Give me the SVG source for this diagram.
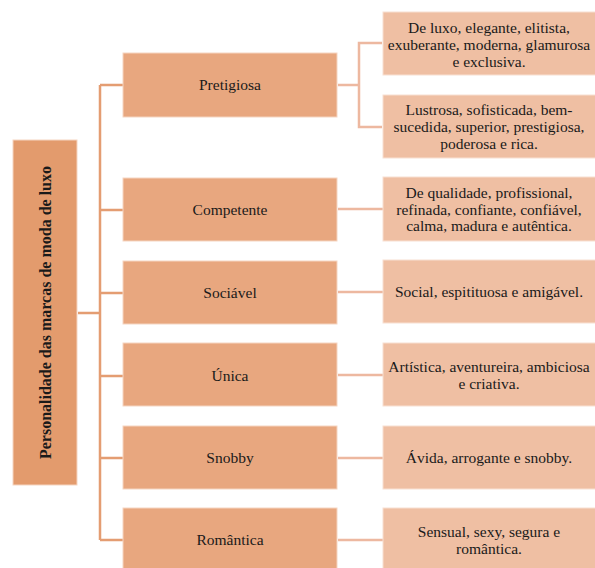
<svg xmlns="http://www.w3.org/2000/svg" width="595" height="568" viewBox="0 0 595 568">
<style>
.root{fill:#E39B6D;stroke:#F5D5C2;stroke-width:1}
.mid{fill:#E8A77F;stroke:#F5D5C2;stroke-width:1}
.leaf{fill:#EFBFA3;stroke:#F8E0D2;stroke-width:1}
.t{font-family:"Liberation Serif","Times New Roman",serif;font-size:15.5px;fill:#1a1a1a;text-anchor:middle}
.tb{font-family:"Liberation Serif","Times New Roman",serif;font-size:16px;font-weight:bold;fill:#1a1a1a;text-anchor:middle}
.main{fill:none;stroke:#E49D72;stroke-width:2.5}
.sub{fill:none;stroke:#EDB8A0;stroke-width:2.5}
</style>
<rect width="595" height="568" fill="#ffffff"/>
<g id="connectors">
<path class="main" d="M78,313 H100 M100,85 V540 M100,85 H123 M100,210 H123 M100,293 H123 M100,376 H123 M100,458 H123 M100,540 H123"/>
<path class="sub" d="M338,85 H359 M382,43 H359 V127 H382 M338,209 H383 M338,292 H383 M338,375 H383 M338,458 H383 M338,540 H383"/>
</g>
<g id="root">
<rect class="root" x="13" y="140" width="64" height="345"/>
<text class="tb" transform="translate(51,312.5) rotate(-90)">Personalidade das marcas de moda de luxo</text>
</g>
<g id="pretigiosa">
<rect class="mid" x="123" y="53" width="214" height="64"/>
<text class="t" x="230" y="90">Pretigiosa</text>
</g>
<g id="competente">
<rect class="mid" x="123" y="178" width="214" height="63"/>
<text class="t" x="230" y="215">Competente</text>
</g>
<g id="sociavel">
<rect class="mid" x="123" y="261" width="214" height="63"/>
<text class="t" x="230" y="298">Sociável</text>
</g>
<g id="unica">
<rect class="mid" x="123" y="343" width="214" height="63"/>
<text class="t" x="230" y="381">Única</text>
</g>
<g id="snobby">
<rect class="mid" x="123" y="426" width="214" height="63"/>
<text class="t" x="230" y="463">Snobby</text>
</g>
<g id="romantica">
<rect class="mid" x="123" y="508" width="214" height="64"/>
<text class="t" x="230" y="545">Romântica</text>
</g>
<g id="leaf-pretigiosa-1">
<rect class="leaf" x="383" y="12" width="214" height="63"/>
<text class="t" x="489" y="33">De luxo, elegante, elitista,</text>
<text class="t" x="489" y="50">exuberante, moderna, glamurosa</text>
<text class="t" x="489" y="66.5">e exclusiva.</text>
</g>
<g id="leaf-pretigiosa-2">
<rect class="leaf" x="383" y="95" width="214" height="63"/>
<text class="t" x="489" y="115">Lustrosa, sofisticada, bem-</text>
<text class="t" x="489" y="132">sucedida, superior, prestigiosa,</text>
<text class="t" x="489" y="149">poderosa e rica.</text>
</g>
<g id="leaf-competente">
<rect class="leaf" x="383" y="177" width="214" height="64"/>
<text class="t" x="489" y="198">De qualidade, profissional,</text>
<text class="t" x="489" y="214.5">refinada, confiante, confiável,</text>
<text class="t" x="489" y="231">calma, madura e autêntica.</text>
</g>
<g id="leaf-sociavel">
<rect class="leaf" x="383" y="260" width="214" height="63"/>
<text class="t" x="489" y="297">Social, espitituosa e amigável.</text>
</g>
<g id="leaf-unica">
<rect class="leaf" x="383" y="343" width="214" height="63"/>
<text class="t" x="489" y="372">Artística, aventureira, ambiciosa</text>
<text class="t" x="489" y="388.5">e criativa.</text>
</g>
<g id="leaf-snobby">
<rect class="leaf" x="383" y="426" width="214" height="63"/>
<text class="t" x="489" y="463">Ávida, arrogante e snobby.</text>
</g>
<g id="leaf-romantica">
<rect class="leaf" x="383" y="508" width="214" height="64"/>
<text class="t" x="489" y="537">Sensual, sexy, segura e</text>
<text class="t" x="489" y="553.5">romântica.</text>
</g>
</svg>
